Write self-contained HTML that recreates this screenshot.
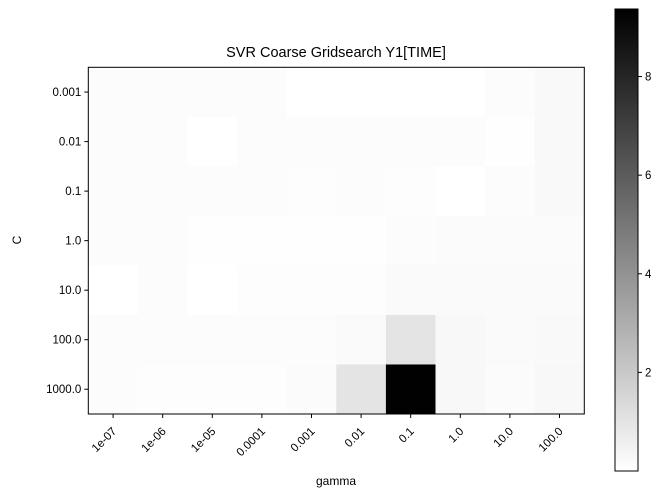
<!DOCTYPE html>
<html><head><meta charset="utf-8">
<style>
html,body{margin:0;padding:0;background:#fff;}
svg{display:block;font-family:"Liberation Sans","DejaVu Sans",sans-serif;}
</style></head>
<body>
<svg id="chart" width="666" height="497" viewBox="0 0 666 497">
<defs>
<linearGradient id="cbgrad" x1="0" y1="1" x2="0" y2="0">
<stop offset="0" stop-color="#ffffff"/><stop offset="1" stop-color="#000000"/>
</linearGradient>
</defs>
<text x="336" y="57" font-size="14.5" text-anchor="middle">SVR Coarse Gridsearch Y1[TIME]</text>
<g id="cells"></g>
<rect x="88.3" y="67.3" width="496" height="346.7" fill="none" stroke="#000" stroke-width="1"/>
<g id="xticks"></g>
<g id="yticks"></g>
<text x="336" y="485" font-size="12" text-anchor="middle">gamma</text>
<text x="21" y="240" font-size="12" text-anchor="middle" transform="rotate(-90 21 240)">C</text>
<rect x="615" y="9" width="23" height="462" fill="url(#cbgrad)" stroke="#000" stroke-width="1"/>
<g id="cbticks"></g>
</svg>
<script>
const gammas = ["1e-07","1e-06","1e-05","0.0001","0.001","0.01","0.1","1.0","10.0","100.0"];
const Cs = ["0.001","0.01","0.1","1.0","10.0","100.0","1000.0"];
const row0 = [0.11,0.11,0.11,0.11,0.01,0.01,0.01,0.01,0.11,0.22];
const row1 = [0.11,0.11,0.01,0.11,0.11,0.11,0.11,0.11,0.04,0.22];
const row2 = [0.11,0.11,0.11,0.11,0.07,0.11,0.07,0.01,0.11,0.22];
const row3 = [0.11,0.11,0.04,0.04,0.04,0.04,0.11,0.15,0.15,0.15];
const row4 = [0.01,0.11,0.01,0.07,0.07,0.07,0.18,0.18,0.18,0.18];
const row5 = [0.11,0.11,0.11,0.11,0.11,0.18,0.99,0.26,0.18,0.22];
const row6 = [0.11,0.07,0.07,0.07,0.15,0.99,9.35,0.26,0.15,0.26];
const rows = [row0,row1,row2,row3,row4,row5,row6];
const cbTicks = [2,4,6,8];
const vmin = 0, vmax = 9.37;

const NS = "http://www.w3.org/2000/svg";
const X0 = 88.3, X1 = 584.3, Y0 = 67.3, Y1 = 414;
const cw = (X1 - X0) / gammas.length, ch = (Y1 - Y0) / Cs.length;
const xPos = i => X0 + i * cw;
const yPos = j => Y0 + j * ch;
const color = v => { const g = Math.round(255 * (1 - Math.max(0, Math.min(1, (v - vmin) / (vmax - vmin))))); return `rgb(${g},${g},${g})`; };
const cbY = v => 471 - (v - vmin) / (vmax - vmin) * 462;
function mk(tag, attrs, parent) { const e = document.createElementNS(NS, tag); for (const k in attrs) e.setAttribute(k, attrs[k]); parent.appendChild(e); return e; }

const cells = document.getElementById('cells');
rows.forEach((r, j) => r.forEach((v, i) => {
  const el = mk('rect', {x: xPos(i), y: yPos(j), width: cw + 0.3, height: ch + 0.3, fill: color(v)}, cells);
  
  
}));

const xt = document.getElementById('xticks');
gammas.forEach((g, i) => {
  const cx = xPos(i) + cw / 2;
  mk('line', {x1: cx, x2: cx, y1: Y1, y2: Y1 + 4, stroke: '#000'}, xt);
  const t = mk('text', {x: cx + 4, y: Y1 + 18, 'font-size': 11.5, 'text-anchor': 'end', transform: `rotate(-45 ${cx + 4} ${Y1 + 18})`}, xt);
  t.textContent = g;
  
  
});
const yt = document.getElementById('yticks');
Cs.forEach((c, j) => {
  const cy = yPos(j) + ch / 2;
  mk('line', {x1: X0 - 4, x2: X0, y1: cy, y2: cy, stroke: '#000'}, yt);
  const t = mk('text', {x: X0 - 7, y: cy + 4, 'font-size': 11.5, 'text-anchor': 'end'}, yt);
  t.textContent = c;
  
  
});
const cb = document.getElementById('cbticks');
cbTicks.forEach(v => {
  const y = cbY(v);
  mk('line', {x1: 638, x2: 642, y1: y, y2: y, stroke: '#000'}, cb);
  const t = mk('text', {x: 645, y: y + 4, 'font-size': 11.5}, cb);
  t.textContent = v;
  
  
});
</script>
</body></html>
